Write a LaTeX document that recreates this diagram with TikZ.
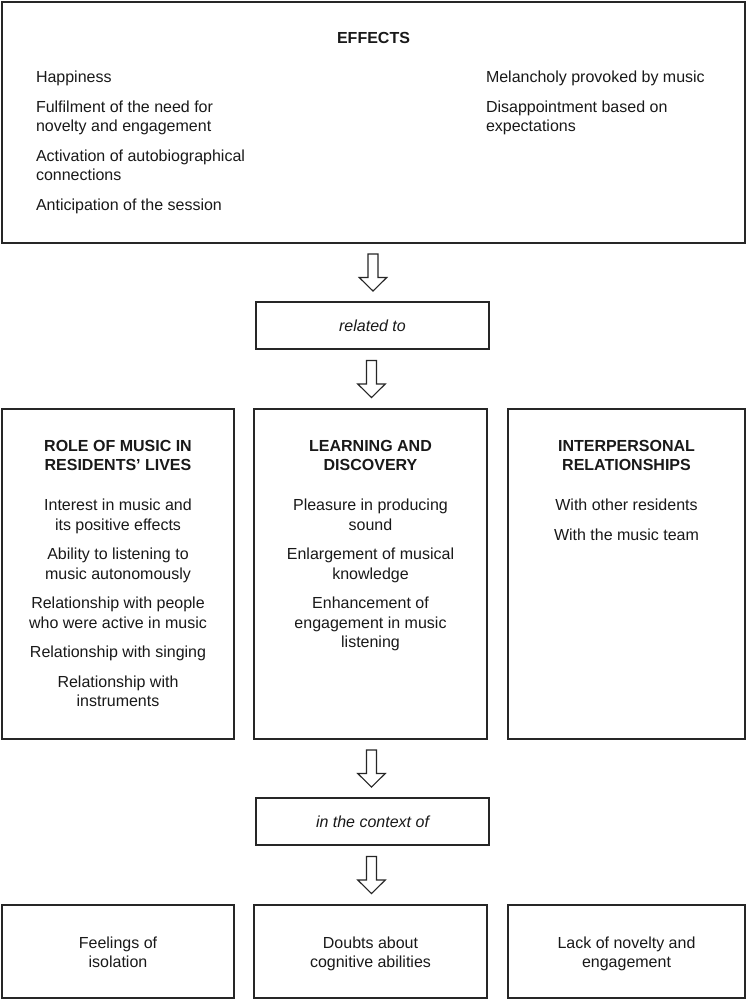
\documentclass[tikz,border=0pt]{standalone}
\usepackage{fontspec}
\setmainfont{Liberation Sans}
\usetikzlibrary{calc}
\begin{document}
\begin{tikzpicture}[x=1pt,y=-1pt]
\tikzset{
  box/.style={draw=black!85, line width=1.2pt, rectangle, inner sep=0pt, outer sep=0pt, anchor=north west},
  txt/.style={inner sep=0pt, outer sep=0pt, font=\fontsize{16}{19.6}\selectfont, text=black!90},
  ctxt/.style={txt, align=center, anchor=north},
  ltxt/.style={txt, align=left, anchor=north west},
  htxt/.style={ctxt, font=\fontsize{16}{19.2}\selectfont\bfseries},
  arrowline/.style={draw=black!85, line width=1.1pt, fill=white, line join=miter},
  hollowdown/.pic={\draw[arrowline] (-5,0) -- (-5,23.5) -- (-13.8,23.5) -- (0,37) -- (13.8,23.5) -- (5,23.5) -- (5,0) -- cycle;}
}
\useasboundingbox[fill=white] (0,0) rectangle (749,1003);

% boxes
\node[box, minimum width=743pt, minimum height=241pt] (effects) at (2,2) {};
\node[box, minimum width=233pt, minimum height=47pt, font=\fontsize{16}{19.6}\selectfont\itshape, text=black!90] (related) at (256,302) {related to};
\node[box, minimum width=232pt, minimum height=330pt] (role) at (2,409) {};
\node[box, minimum width=233pt, minimum height=330pt] (learn) at (254,409) {};
\node[box, minimum width=237pt, minimum height=330pt] (inter) at (508,409) {};
\node[box, minimum width=233pt, minimum height=47pt, font=\fontsize{16}{19.6}\selectfont\itshape, text=black!90] (context) at (256,798) {in the context of};
\node[box, minimum width=232pt, minimum height=93pt] (iso) at (2,905) {};
\node[box, minimum width=233pt, minimum height=93pt] (doubt) at (254,905) {};
\node[box, minimum width=237pt, minimum height=93pt] (lack) at (508,905) {};

% block arrows
\path ($(effects.south)!0.5!(related.north)+(0,-18.5)$) pic {hollowdown};
\path ($(related.south)!0.5!(learn.north)+(0,-18.5)$) pic {hollowdown};
\path ($(learn.south)!0.5!(context.north)+(0,-18.5)$) pic {hollowdown};
\path ($(context.south)!0.5!(doubt.north)+(0,-18.5)$) pic {hollowdown};

% effects texts
\node[htxt] (effh) at (373.5,32.5) {EFFECTS};
\node[ltxt] (effpos) at (36,71.4) {Happiness\\[9.8pt]
  Fulfilment of the need for\\novelty and engagement\\[9.8pt]
  Activation of autobiographical\\connections\\[9.8pt]
  Anticipation of the session};
\node[ltxt] (effneg) at (486,71.4) {Melancholy provoked by music\\[9.8pt]
  Disappointment based on\\expectations};

% column headings
\node[htxt] (roleh) at (role.north |- 0,440.2) {ROLE OF MUSIC IN\\RESIDENTS’ LIVES};
\node[htxt] (learnh) at (learn.north |- 0,440.2) {LEARNING AND\\DISCOVERY};
\node[htxt] (interh) at (inter.north |- 0,440.2) {INTERPERSONAL\\RELATIONSHIPS};

% column items
\node[ctxt] (rolei) at (role.north |- 0,499.1) {Interest in music and\\its positive effects\\[9.8pt]
  Ability to listening to\\music autonomously\\[9.8pt]
  Relationship with people\\who were active in music\\[9.8pt]
  Relationship with singing\\[9.8pt]
  Relationship with\\instruments};
\node[ctxt] (learni) at (learn.north |- 0,499.1) {Pleasure in producing\\sound\\[9.8pt]
  Enlargement of musical\\knowledge\\[9.8pt]
  Enhancement of\\engagement in music\\listening};
\node[ctxt] (interi) at (inter.north |- 0,499.1) {With other residents\\[9.8pt]
  With the music team};

% bottom texts
\node[ctxt] (isot) at (iso.north |- 0,936.7) {Feelings of\\isolation};
\node[ctxt] (doubtt) at (doubt.north |- 0,936.7) {Doubts about\\cognitive abilities};
\node[ctxt] (lackt) at (lack.north |- 0,936.7) {Lack of novelty and\\engagement};
\end{tikzpicture}
\end{document}
